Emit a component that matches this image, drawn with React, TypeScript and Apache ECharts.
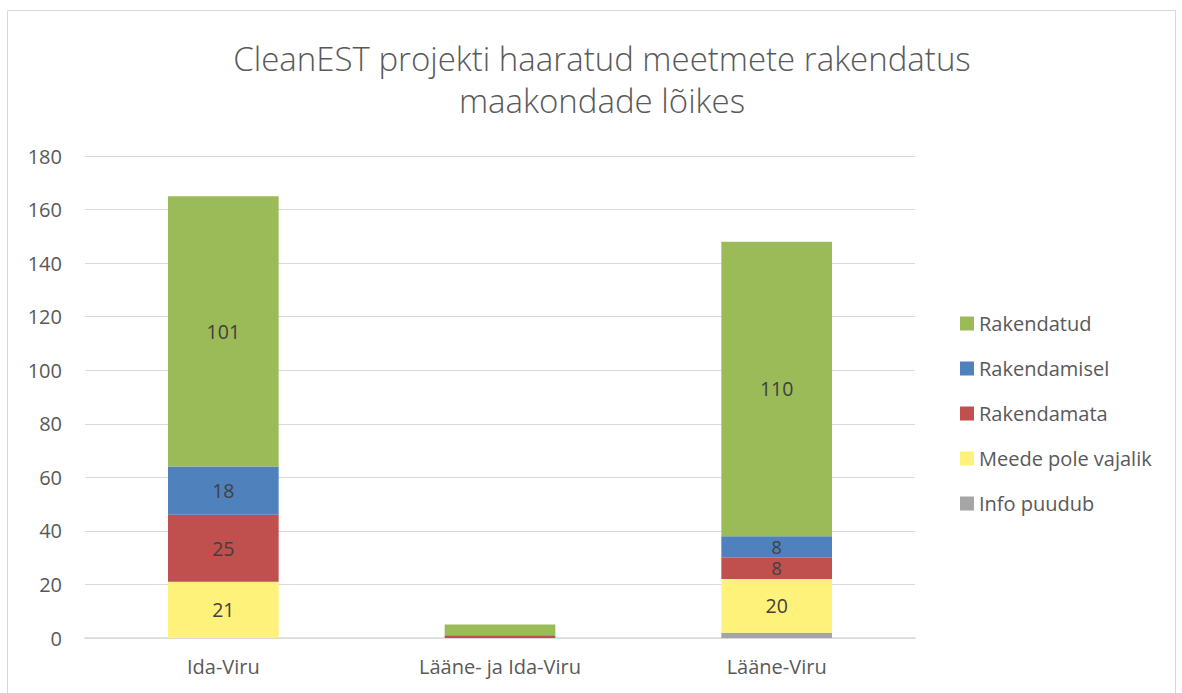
import React, { useEffect, useRef } from "react";
import * as echarts from "echarts";

const categories = ["Ida-Viru", "Lääne- ja Ida-Viru", "Lääne-Viru"];
const infoPuudub = [0, 0, 2];
const meedePoleVajalik = [21, 0, 20];
const rakendamata = [25, 1, 8];
const rakendamisel = [18, 0, 8];
const rakendatud = [101, 4, 110];
const yTicks = { min: 0, max: 180, interval: 20 };

const FONT = "'Open Sans', 'Liberation Sans', sans-serif";

export default function App() {
  const ref = useRef<HTMLDivElement>(null);
  useEffect(() => {
    document.body.style.margin = "0";
    const chart = echarts.init(ref.current!, null, { renderer: "svg" });
    const label = {
      show: true,
      position: "inside",
      color: "#404040",
      fontSize: 19.5,
      lineHeight: 19,
      fontFamily: FONT,
      formatter: (p: any) => (p.value >= 5 ? String(p.value) : ""),
    };
    const mk = (name: string, data: number[], color: string) => ({
      name,
      type: "bar",
      stack: "total",
      data: data.map((v) =>
        v > 0 && v < 10 ? { value: v, label: { fontSize: 18, lineHeight: 15 } } : v
      ),
      barWidth: "40%",
      itemStyle: { color },
      label,
    });
    chart.setOption({
      animation: false,
      textStyle: { fontFamily: FONT },
      title: {
        text: "CleanEST projekti haaratud meetmete rakendatus\nmaakondade lõikes",
        left: 597,
        top: 32,
        textAlign: "center",
        textStyle: {
          fontSize: 33,
          fontWeight: 300,
          color: "#595959",
          fontFamily: FONT,
          lineHeight: 42,
        },
      },
      graphic: [
        {
          type: "rect",
          shape: { x: 7.5, y: 10.5, width: 1168, height: 700 },
          style: { fill: "none", stroke: "#d9d9d9", lineWidth: 1 },
          silent: true,
        },
      ],
      grid: { left: 85, right: 267, top: 156, bottom: 55 },
      legend: {
        orient: "vertical",
        left: 955,
        top: 304,
        itemGap: 16,
        itemWidth: 14,
        itemHeight: 14,
        icon: "rect",
        data: ["Rakendatud", "Rakendamisel", "Rakendamata", "Meede pole vajalik", "Info puudub"],
        textStyle: { fontSize: 20, color: "#595959", fontFamily: FONT, lineHeight: 29 },
      },
      xAxis: {
        type: "category",
        data: categories,
        axisLine: { lineStyle: { color: "#d9d9d9", width: 1.5 } },
        axisTick: { show: false },
        axisLabel: { fontSize: 20, color: "#595959", margin: 18, fontFamily: FONT },
      },
      yAxis: {
        type: "value",
        ...yTicks,
        axisLine: { show: false },
        axisTick: { show: false },
        splitLine: { lineStyle: { color: "#d9d9d9" } },
        axisLabel: { fontSize: 20, color: "#595959", margin: 23, fontFamily: FONT },
      },
      series: [
        mk("Info puudub", infoPuudub, "#A5A5A5"),
        mk("Meede pole vajalik", meedePoleVajalik, "#FFF27A"),
        mk("Rakendamata", rakendamata, "#C0504D"),
        mk("Rakendamisel", rakendamisel, "#4F81BD"),
        mk("Rakendatud", rakendatud, "#9BBB59"),
      ],
    });
    return () => chart.dispose();
  }, []);
  return <div ref={ref} style={{ width: 1182, height: 693 }} />;
}
